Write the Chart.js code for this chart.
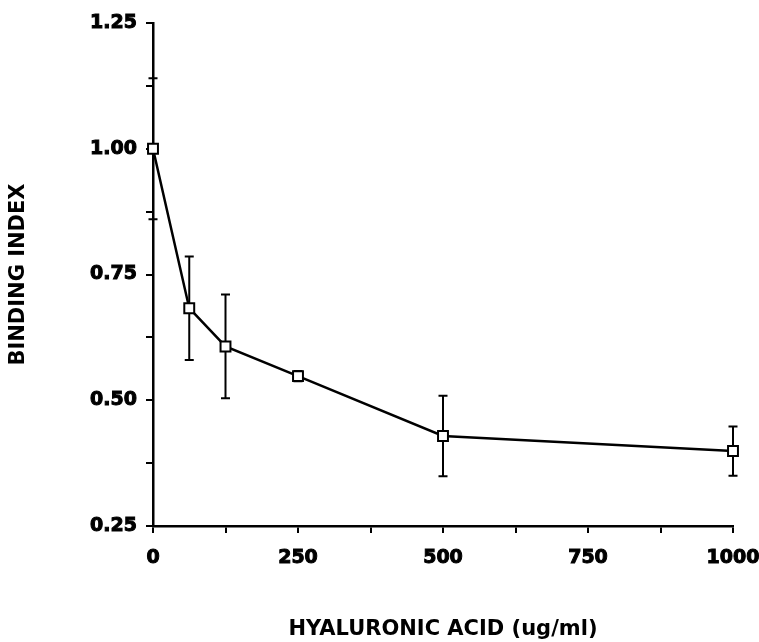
<!DOCTYPE html>
<html>
<head>
<meta charset="utf-8">
<script src="https://cdn.jsdelivr.net/npm/chart.js"></script>
<style>
  html, body { margin: 0; padding: 0; background: #fff; }
</style>
</head>
<body>
<canvas id="chart" width="759" height="642"></canvas>
<script>
// Binding index vs hyaluronic acid concentration
const concentrations = [0, 62.5, 125, 250, 500, 1000];
const bindingIndex = [1.00, 0.683, 0.607, 0.548, 0.429, 0.399];
const bindingError = [0.14, 0.103, 0.103, 0.01, 0.08, 0.049];
const xTickLabels = [0, 250, 500, 750, 1000];
const yTickLabels = [0.25, 0.50, 0.75, 1.00, 1.25];

const tickFont = { family: "'DejaVu Sans', sans-serif", size: 19, weight: 'bold' };
const titleFont = { family: "'DejaVu Sans', sans-serif", size: 21, weight: 'bold' };

// error bars drawn under the square markers
const errorBars = {
  id: 'errorBars',
  beforeDatasetsDraw(chart) {
    const ctx = chart.ctx;
    const xs = chart.scales.x, ys = chart.scales.y;
    ctx.save();
    ctx.strokeStyle = '#000';
    ctx.lineWidth = 2;
    concentrations.forEach((c, i) => {
      const px = xs.getPixelForValue(c);
      const top = ys.getPixelForValue(bindingIndex[i] + bindingError[i]);
      const bot = ys.getPixelForValue(bindingIndex[i] - bindingError[i]);
      ctx.beginPath();
      ctx.moveTo(px, top); ctx.lineTo(px, bot);
      ctx.moveTo(px - 4.5, top); ctx.lineTo(px + 4.5, top);
      ctx.moveTo(px - 4.5, bot); ctx.lineTo(px + 4.5, bot);
      ctx.stroke();
    });
    ctx.restore();
  }
};

new Chart(document.getElementById('chart'), {
  type: 'line',
  data: {
    datasets: [{
      data: concentrations.map((c, i) => ({ x: c, y: bindingIndex[i] })),
      borderColor: '#000',
      borderWidth: 2.5,
      tension: 0,
      pointStyle: 'rect',
      pointRadius: 7,
      pointBorderWidth: 2,
      pointBorderColor: '#000',
      pointBackgroundColor: '#fff',
      clip: false
    }]
  },
  options: {
    responsive: false,
    animation: false,
    layout: { padding: { top: 23, right: 26, left: 0, bottom: 0 } },
    plugins: { legend: { display: false }, tooltip: { enabled: false } },
    scales: {
      x: {
        type: 'linear',
        min: 0,
        max: 1000,
        afterFit: (scale) => {
          scale.height = 116;
          scale.paddingLeft = 0;
          scale.paddingRight = 0;
        },
        border: { color: '#000', width: 2.5 },
        grid: { drawOnChartArea: false, color: '#000', tickLength: 7, lineWidth: 2 },
        ticks: {
          stepSize: 125,
          color: '#000',
          font: tickFont,
          textStrokeColor: '#000',
          textStrokeWidth: 1,
          padding: 14,
          maxRotation: 0,
          autoSkip: false,
          callback: (v) => xTickLabels.includes(v) ? String(v) : ''
        },
        title: {
          display: true,
          text: 'HYALURONIC ACID (ug/ml)',
          color: '#000',
          font: titleFont,
          padding: { top: 0, bottom: 0 }
        }
      },
      y: {
        type: 'linear',
        min: 0.25,
        max: 1.25,
        afterFit: (scale) => {
          scale.width = 153;
          scale.paddingTop = 0;
          scale.paddingBottom = 0;
        },
        border: { color: '#000', width: 2.5 },
        grid: { drawOnChartArea: false, color: '#000', tickLength: 7, lineWidth: 2 },
        ticks: {
          stepSize: 0.125,
          color: '#000',
          font: tickFont,
          textStrokeColor: '#000',
          textStrokeWidth: 1,
          padding: 9,
          autoSkip: false,
          callback: (v) => yTickLabels.some(t => Math.abs(t - v) < 1e-6) ? v.toFixed(2) : ''
        },
        title: {
          display: true,
          text: 'BINDING INDEX',
          color: '#000',
          font: titleFont,
          padding: { top: 6, bottom: 0 }
        }
      }
    }
  },
  plugins: [errorBars]
});
</script>
</body>
</html>
